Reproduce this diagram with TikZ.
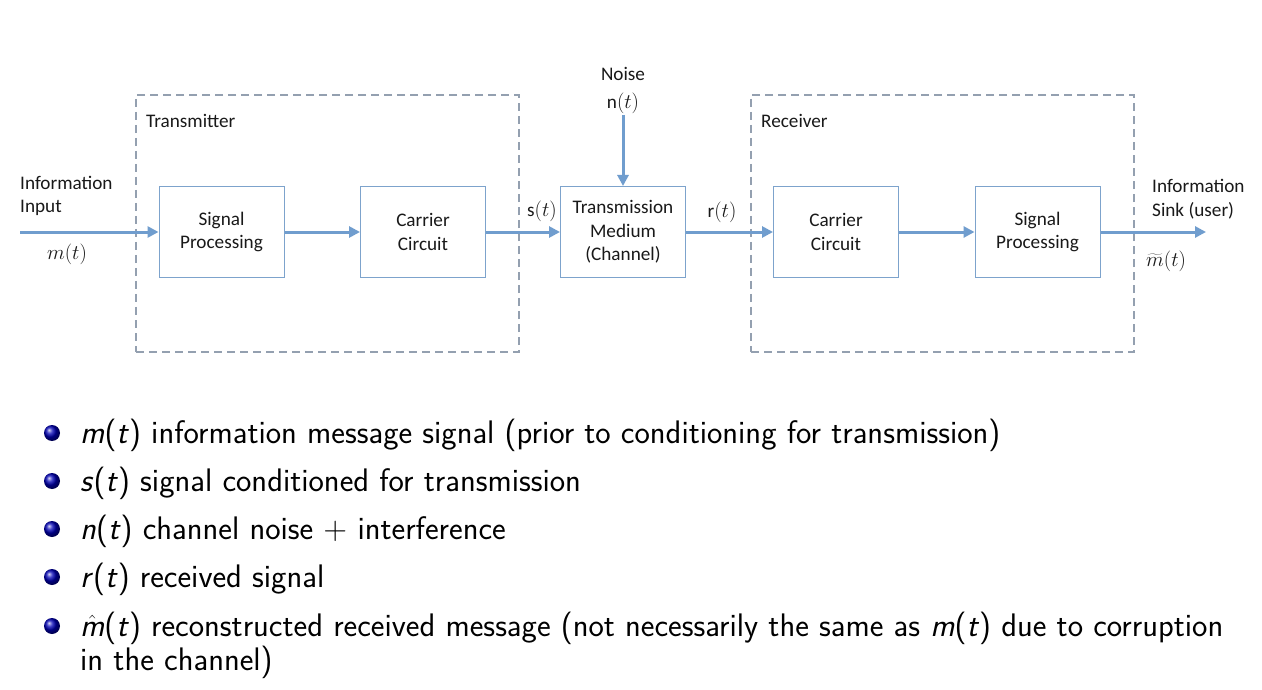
\documentclass[tikz,border=0pt]{standalone}
\usepackage{fontspec}
\usetikzlibrary{arrows.meta,shapes.geometric}
\newfontfamily\diagfont{Carlito}
\setmainfont{Latin Modern Sans}
\newcommand\sv[1]{\textit{#1}}
\definecolor{sigblue}{RGB}{112,157,206}
\definecolor{boxedge}{RGB}{125,163,204}
\definecolor{dashgray}{RGB}{148,160,176}
\definecolor{txt}{RGB}{25,25,25}
\begin{document}
\begin{tikzpicture}[x=1pt,y=-1pt,
  font=\diagfont\fontsize{19.2}{23.5}\selectfont, text=txt,
  block/.style={draw=boxedge, line width=1pt, minimum width=125pt, minimum height=91pt,
    inner sep=0pt, align=center, fill=white},
  group/.style={draw=dashgray, line width=1.1pt, dash pattern=on 8pt off 5pt, inner sep=0pt},
  sig/.style={draw=sigblue, line width=3pt, -{Triangle[length=11pt,width=11pt]}},
  lbl/.style={inner sep=0pt, align=left},
  mathlbl/.style={inner sep=0pt, font=\fontsize{21}{25}\selectfont},
  ballbullet/.style={circle, shading=ball, ball color=blue!72!black, minimum size=16pt, inner sep=0pt},
  item/.style={inner sep=0pt, anchor=base west, align=left,
    font=\sffamily\fontsize{32.6}{34}\selectfont, text=black}]
\useasboundingbox (0,0) rectangle (1262,690);
\fill[white] (0,0) rectangle (1262,690);

% transmitter and receiver groups
\node[group, minimum width=383pt, minimum height=257pt] (tx) at (327.5,223.5) {};
\node[group, minimum width=383pt, minimum height=257pt] (rx) at (942.5,223.5) {};
\node[lbl, anchor=west] (txl) at (146,121) {Transmitter};
\node[lbl, anchor=west] (rxl) at (761,121) {Receiver};

% processing chain
\node[block] (sp1) at (221.5,232) {Signal\\Processing};
\node[block] (cc1) at (423,232) {Carrier\\Circuit};
\node[block] (tm)  at (623,232) {Transmission\\Medium\\(Channel)};
\node[block] (cc2) at (836,232) {Carrier\\Circuit};
\node[block] (sp2) at (1037.5,232) {Signal\\Processing};

\coordinate (in) at (20,232);
\coordinate (out) at (1206,232);
\coordinate (nz) at (623,115);

\draw[sig] (in) -- (sp1.west);
\draw[sig] (sp1.east) -- (cc1.west);
\draw[sig] (cc1.east) -- (tm.west);
\draw[sig] (tm.east) -- (cc2.west);
\draw[sig] (cc2.east) -- (sp2.west);
\draw[sig] (sp2.east) -- (out);
\draw[sig] (nz) -- (tm.north);

% signal labels
\node[lbl, anchor=west] (inl) at (20,196) {Information\\Input};
\node[mathlbl] (mt) at (67,254) {$m(t)$};
\node[lbl] (noisel) at (623,74) {Noise};
\node[lbl] (nt) at (623,103) {n{\fontsize{21}{25}\selectfont$(t)$}};
\node[lbl] (st) at (542,211) {s{\fontsize{21}{25}\selectfont$(t)$}};
\node[lbl] (rt) at (722,212) {r{\fontsize{21}{25}\selectfont$(t)$}};
\node[lbl, anchor=west] (outl) at (1152,199) {Information\\Sink (user)};
\node[mathlbl, anchor=west] (mh) at (1146,261) {$\widetilde{m}(t)$};

% legend
\node[ballbullet] (b1) at (52,433) {};
\node[ballbullet] (b2) at (52,481) {};
\node[ballbullet] (b3) at (52,529) {};
\node[ballbullet] (b4) at (52,577) {};
\node[ballbullet] (b5) at (52,626) {};
\node[item] (i1) at (80,443) {\sv{m}(\sv{t}) information message signal (prior to conditioning for transmission)};
\node[item] (i2) at (80,491) {\sv{s}(\sv{t}) signal conditioned for transmission};
\node[item] (i3) at (80,539) {\sv{n}(\sv{t}) channel noise + interference};
\node[item] (i4) at (80,587) {\sv{r}(\sv{t}) received signal};
\node[item] (i5) at (80,670) {$\hat{\textit{m}}$(\sv{t}) reconstructed received message (not necessarily the same as \sv{m}(\sv{t}) due to corruption\\in the channel)};
\end{tikzpicture}
\end{document}
